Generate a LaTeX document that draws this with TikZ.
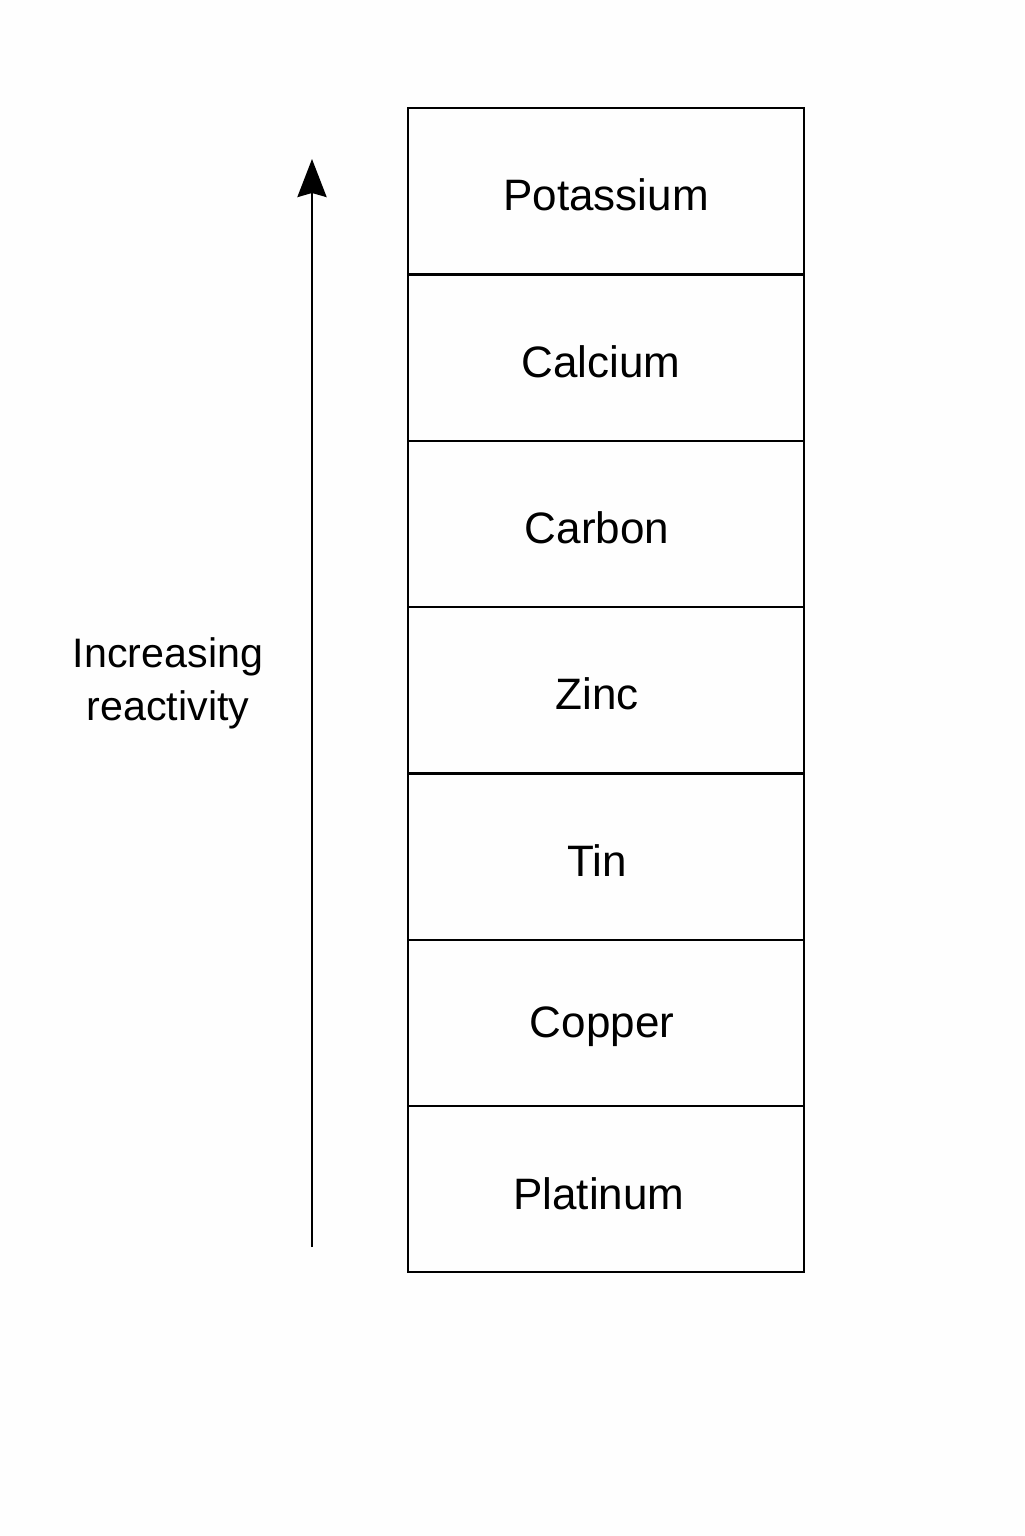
\documentclass[tikz,border=0pt]{standalone}
\usepackage{fontspec}
\setmainfont{Liberation Sans}
\usetikzlibrary{arrows.meta}
\begin{document}
\begin{tikzpicture}[x=0.5pt,y=-0.5pt,
  cell/.style={draw=black,line width=1pt,minimum width=198pt,minimum height=83pt,inner sep=0pt},
  elemtext/.style={inner sep=0pt,font=\fontsize{22}{26}\selectfont},
  lbl/.style={font=\fontsize{20.6}{26.5}\selectfont,align=center}]
\fill[white!99!gray] (0,0) rectangle (1024,1536);
\useasboundingbox (0,0) rectangle (1024,1536);
\node[cell] (k)  at (606,191) {};
\node[cell] (ca) at (606,357.5) {};
\node[cell] (c)  at (606,524) {};
\node[cell] (zn) at (606,690) {};
\node[cell] (sn) at (606,856.5) {};
\node[cell] (cu) at (606,1023) {};
\node[cell] (pt) at (606,1189) {};
\node[elemtext] (tk)  at (606,195) {Potassium};
\node[elemtext] (tca) at (601,362) {Calcium};
\node[elemtext] (tc)  at (597,528) {Carbon};
\node[elemtext] (tzn) at (597,694) {Zinc};
\node[elemtext] (tsn) at (597,861) {Tin};
\node[elemtext] (tcu) at (602,1027) {Copper};
\node[elemtext] (tpt) at (599,1194) {Platinum};
\coordinate (a0) at (312,1247);
\coordinate (a1) at (312,159);
\draw[line width=1.4pt,-{Stealth[length=19pt,width=14.5pt,inset=2pt]}] (a0) -- (a1);
\node[lbl] (r) at (168,683) {Increasing\\reactivity};
\end{tikzpicture}
\end{document}
